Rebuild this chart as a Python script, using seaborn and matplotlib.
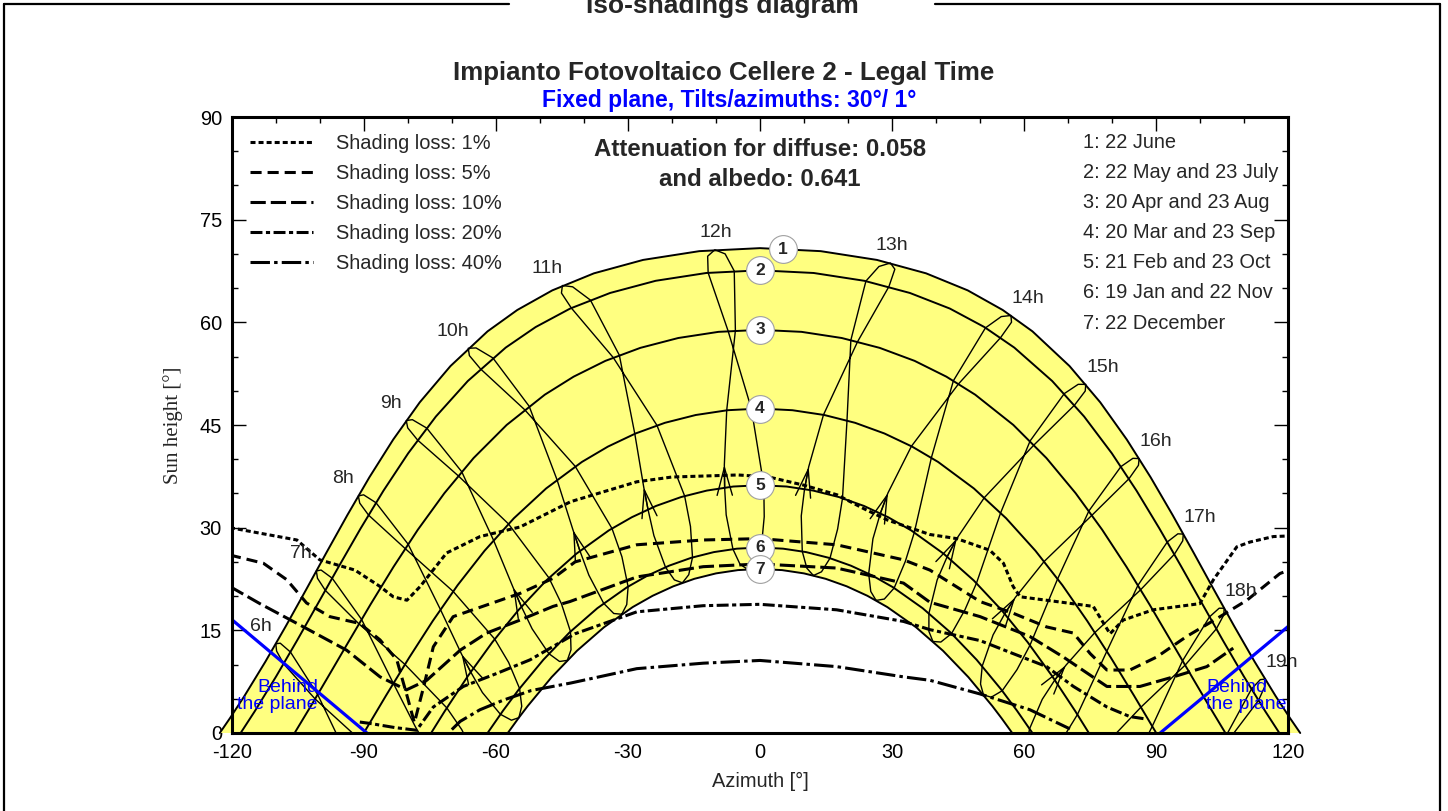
import numpy as np
import matplotlib
matplotlib.use("Agg")
import matplotlib.pyplot as plt
import seaborn as sns
from matplotlib.lines import Line2D

# ---------------- data (azimuth [deg], sun height [deg]) ----------------
# date curves (sun paths) 1..7
D1_AZ = [-122.71, -120.37, -117.10, -112.34, -107.70, -103.10, -98.48, -93.72, -88.72, -83.32, -77.29,
         -70.31, -61.89, -55.14, -47.18, -37.72, -26.55, -13.79, 0, 13.79, 26.55, 37.72, 47.18, 55.14,
         61.89, 70.31, 77.29, 83.32, 88.72, 93.72, 98.48, 103.10, 107.70, 112.34, 117.10, 120.37, 122.71]
D1_H = [0, 2.19, 5.42, 10.43, 15.62, 20.94, 26.36, 31.85, 37.37, 42.87, 48.31,
        53.61, 58.68, 61.80, 64.67, 67.16, 69.12, 70.40, 70.84, 70.40, 69.12, 67.16, 64.67, 61.80,
        58.68, 53.61, 48.31, 42.87, 37.37, 31.85, 26.36, 20.94, 15.62, 10.43, 5.42, 2.19, 0]
D2_AZ = [-117.97, -114.79, -109.92, -105.15, -100.43, -95.65, -90.73, -85.54, -79.91, -73.62, -66.38,
         -57.76, -50.96, -43.13, -34.05, -23.69, -12.19, 0, 12.19, 23.69, 34.05, 43.13, 50.96, 57.76,
         66.38, 73.62, 79.91, 85.54, 90.73, 95.65, 100.43, 105.15, 109.92, 114.79, 117.97]
D2_H = [0, 3.15, 8.25, 13.52, 18.90, 24.36, 29.87, 35.39, 40.87, 46.24, 51.42,
        56.31, 59.31, 62.01, 64.29, 66.07, 67.21, 67.60, 67.21, 66.07, 64.29, 62.01, 59.31, 56.31,
        51.42, 46.24, 40.87, 35.39, 29.87, 24.36, 18.90, 13.52, 8.25, 3.15, 0]
D3_AZ = [-105.71, -101.84, -98.52, -93.54, -88.49, -83.25, -77.71, -71.70, -65.06, -57.54, -48.88,
         -42.34, -35.12, -27.18, -18.57, -9.43, 0, 9.43, 18.57, 27.18, 35.12, 42.34, 48.88, 57.54,
         65.06, 71.70, 77.71, 83.25, 88.49, 93.54, 98.52, 101.84, 105.71]
D3_H = [0, 4.13, 7.76, 13.24, 18.76, 24.27, 29.71, 35.03, 40.17, 45.01, 49.43,
        52.06, 54.37, 56.27, 57.71, 58.61, 58.90, 58.61, 57.71, 56.27, 54.37, 52.06, 49.43, 45.01,
        40.17, 35.03, 29.71, 24.27, 18.76, 13.24, 7.76, 4.13, 0]
D4_AZ = [-90, -84.91, -79.72, -74.34, -68.68, -62.56, -55.91, -48.58, -40.46, -34.56, -28.27, -21.60,
         -14.60, -7.37, 0, 7.37, 14.60, 21.60, 28.27, 34.56, 40.46, 48.58, 55.91, 62.56, 68.68, 74.34,
         79.72, 84.91, 90]
D4_H = [0, 5.51, 10.98, 16.36, 21.60, 26.63, 31.37, 35.73, 39.60, 41.84, 43.76, 45.32,
        46.46, 47.16, 47.40, 47.16, 46.46, 45.32, 43.76, 41.84, 39.60, 35.73, 31.37, 26.63, 21.60, 16.36,
        10.98, 5.51, 0]
D5_AZ = [-74.70, -71.62, -66.34, -60.79, -54.89, -48.56, -41.72, -34.34, -29.10, -23.63, -17.94, -12.07,
         -6.07, 0, 6.07, 12.07, 17.94, 23.63, 29.10, 34.34, 41.72, 48.56, 54.89, 60.79, 66.34, 71.62, 74.70]
D5_H = [0, 3.18, 8.33, 13.27, 17.94, 22.28, 26.19, 29.60, 31.53, 33.17, 34.47, 35.42,
        36.01, 36.20, 36.01, 35.42, 34.47, 33.17, 31.53, 29.60, 26.19, 22.28, 17.94, 13.27, 8.33, 3.18, 0]
D6_AZ = [-61.88, -58.37, -54.81, -49.22, -43.28, -36.95, -30.22, -25.51, -20.63, -15.61, -10.48, -5.26, 0,
         5.26, 10.48, 15.61, 20.63, 25.51, 30.22, 36.95, 43.28, 49.22, 54.81, 58.37, 61.88]
D6_H = [0, 3.26, 6.34, 10.69, 14.68, 18.23, 21.29, 23.01, 24.45, 25.60, 26.43, 26.93, 27.10,
        26.93, 26.43, 25.60, 24.45, 23.01, 21.29, 18.23, 14.68, 10.69, 6.34, 3.26, 0]
D7_AZ = [-57.29, -54.89, -52.79, -47.33, -41.56, -35.42, -28.91, -24.38, -19.70, -14.90, -9.99, -5.01, 0,
         5.01, 9.99, 14.90, 19.70, 24.38, 28.91, 35.42, 41.56, 47.33, 52.79, 54.89, 57.29]
D7_H = [0, 2.14, 3.92, 8.16, 12.02, 15.46, 18.40, 20.05, 21.43, 22.53, 23.32, 23.80, 23.96,
        23.80, 23.32, 22.53, 21.43, 20.05, 18.40, 15.46, 12.02, 8.16, 3.92, 2.14, 0]

# hour lines: position of the sun at each legal hour (6h..19h) on given dates
HOURS = [6, 7, 8, 9, 10, 11, 12, 13, 14, 15, 16, 17, 18, 19]
AZ_DEC22 = [-74.04, -64.71, -54.77, -43.77, -31.41, -17.63, -2.84, 12.13, 26.37, 39.28, 50.77, 61.06, 70.56, 79.77]
H_DEC22 = [-17.61, -7.29, 2.24, 10.61, 17.35, 21.94, 23.91, 23.01, 19.37, 13.37, 5.56, -3.58, -13.64, -24.30]
AZ_JAN05 = [-75.73, -66.38, -56.46, -45.53, -33.22, -19.45, -4.55, 10.64, 25.16, 38.36, 50.09, 60.56, 70.18, 79.47]
H_JAN05 = [-18.25, -7.82, 1.87, 10.45, 17.46, 22.37, 24.67, 24.08, 20.68, 14.86, 7.16, -1.92, -11.95, -22.59]
AZ_JAN19 = [-78.45, -68.95, -58.96, -47.95, -35.51, -21.47, -6.15, 9.60, 24.69, 38.37, 50.47, 61.23, 71.06, 80.53]
H_JAN19 = [-17.77, -7.18, 2.73, 11.59, 18.95, 24.23, 26.87, 26.54, 23.27, 17.49, 9.76, 0.62, -9.47, -20.16]
AZ_FEB08 = [-83.09, -73.29, -63.05, -51.75, -38.87, -24.10, -7.68, 9.37, 25.65, 40.24, 52.94, 64.11, 74.28, 84.07]
H_FEB08 = [-15.13, -4.33, 5.91, 15.21, 23.06, 28.84, 31.87, 31.71, 28.37, 22.36, 14.33, 4.92, -5.39, -16.22]
AZ_FEB21 = [-86.11, -76.13, -65.71, -54.19, -40.90, -25.44, -8.03, 10.12, 27.34, 42.52, 55.59, 66.96, 77.30, 87.27]
H_FEB21 = [-12.41, -1.51, 8.91, 18.46, 26.61, 32.67, 35.86, 35.66, 32.10, 25.77, 17.42, 7.74, -2.76, -13.68]
AZ_MAR01 = [-88.41, -78.33, -67.79, -56.08, -42.46, -26.40, -8.10, 11.06, 29.07, 44.73, 58.00, 69.50, 79.91, 89.99]
H_MAR01 = [-9.99, 0.97, 11.52, 21.25, 29.63, 35.89, 39.17, 38.88, 35.08, 28.44, 19.81, 9.91, -0.72, -11.71]
AZ_MAR20 = [-93.48, -83.28, -72.58, -60.52, -46.11, -28.44, -7.56, 14.42, 34.40, 50.97, 64.54, 76.07, 86.52, 96.72]
H_MAR20 = [-3.77, 7.25, 18.03, 28.16, 37.01, 43.72, 47.15, 46.49, 41.90, 34.40, 25.06, 14.68, 3.77, -7.25]
AZ_APR20 = [-100.47, -90.50, -79.93, -67.76, -52.44, -31.95, -5.59, 22.17, 45.11, 62.24, 75.41, 86.46, 96.56, 106.58]
H_APR20 = [5.61, 16.59, 27.59, 38.18, 47.75, 55.20, 58.80, 57.18, 51.02, 42.09, 31.82, 20.93, 9.91, -0.90]
AZ_MAY22 = [-106.66, -97.18, -87.22, -75.70, -60.68, -38.52, -5.85, 29.28, 54.64, 71.45, 83.80, 94.12, 103.65, 113.22]
H_MAY22 = [11.83, 22.62, 33.64, 44.55, 54.80, 63.25, 67.50, 65.22, 57.76, 47.91, 37.14, 26.11, 15.21, 4.75]
AZ_JUN07 = [-108.97, -99.70, -90.04, -78.96, -64.49, -42.56, -7.92, 30.63, 57.13, 73.87, 85.96, 96.02, 105.35, 114.72]
H_JUN07 = [13.12, 23.81, 34.80, 45.78, 56.26, 65.19, 70.00, 67.76, 60.02, 49.96, 39.11, 28.08, 17.25, 6.88]
AZ_JUN22 = [-109.98, -100.77, -91.23, -80.35, -66.27, -44.88, -10.26, 29.62, 57.00, 74.00, 86.12, 96.15, 105.43, 114.74]
H_JUN22 = [13.04, 23.68, 34.64, 45.65, 56.21, 65.38, 70.60, 68.67, 61.00, 50.94, 40.09, 29.06, 18.23, 7.87]
AZ_JUL07 = [-109.80, -100.52, -90.92, -80.02, -66.01, -45.10, -11.89, 27.02, 54.80, 72.27, 84.70, 94.91, 104.29, 113.64]
H_JUL07 = [11.97, 22.61, 33.59, 44.58, 55.14, 64.28, 69.66, 68.16, 60.84, 50.94, 40.13, 29.10, 18.23, 7.80]
AZ_JUL23 = [-108.21, -98.74, -88.92, -77.76, -63.50, -42.84, -11.78, 24.06, 51.21, 69.12, 81.98, 92.51, 102.11, 111.63]
H_JUL23 = [10.11, 20.84, 31.84, 42.79, 53.21, 62.08, 67.24, 66.03, 59.19, 49.59, 38.92, 27.91, 16.97, 6.42]
AZ_AUG23 = [-101.06, -91.09, -80.59, -68.54, -53.46, -33.33, -7.24, 20.64, 43.93, 61.35, 74.71, 85.85, 95.98, 105.98]
H_AUG23 = [4.98, 15.94, 26.94, 37.58, 47.24, 54.85, 58.73, 57.41, 51.47, 42.67, 32.45, 21.58, 10.55, -0.27]
AZ_SEP23 = [-90.90, -80.65, -69.69, -57.13, -41.97, -23.40, -1.96, 19.76, 38.93, 54.66, 67.60, 78.78, 89.10, 99.35]
H_SEP23 = [-0.98, 10.02, 20.68, 30.55, 38.96, 44.94, 47.38, 45.66, 40.23, 32.17, 22.51, 11.94, 0.98, -10.02]
AZ_OCT23 = [-81.24, -71.14, -60.25, -47.94, -33.62, -17.12, 0.86, 18.74, 35.05, 49.17, 61.32, 72.10, 82.17, 92.22]
H_OCT23 = [-7.05, 3.67, 13.72, 22.66, 29.88, 34.63, 36.20, 34.31, 29.30, 21.89, 12.82, 2.69, -8.06, -19.08]
AZ_NOV05 = [-77.68, -67.77, -57.10, -45.11, -31.36, -15.79, 0.96, 17.63, 33.01, 46.55, 58.37, 68.92, 78.79, 88.61]
H_NOV05 = [-10.01, 0.52, 10.31, 18.90, 25.74, 30.17, 31.60, 29.80, 25.07, 18.00, 9.25, -0.64, -11.23, -22.19]
AZ_NOV22 = [-74.59, -64.96, -54.61, -43.05, -29.96, -15.33, 0.30, 15.90, 30.47, 43.51, 55.01, 65.33, 74.95, 84.44]
H_NOV22 = [-13.38, -3.03, 6.50, 14.82, 21.39, 25.65, 27.10, 25.54, 21.18, 14.53, 6.17, -3.41, -13.78, -24.63]
AZ_DEC07 = [-73.66, -64.23, -54.12, -42.93, -30.27, -16.19, -1.15, 13.97, 28.24, 41.08, 52.52, 62.76, 72.27, 81.56]
H_DEC07 = [-15.87, -5.58, 3.90, 12.16, 18.76, 23.12, 24.79, 23.55, 19.57, 13.29, 5.23, -4.09, -14.28, -25.03]

# iso-shading loss curves
L1_AZ = [-120.4, -105.2, -100, -92, -86.3, -83.3, -80.2, -77.2, -71.2, -63.6, -54.5, -43, -28, -20, -5, 2,
         10, 17.5, 23.5, 29, 38.6, 44.7, 50, 52.2, 55.3, 57.5, 59.1, 75.7, 79.5, 82.5, 89.3, 99.9, 103,
         108.3, 111.3, 116.6, 120.6]
L1_H = [30.0, 28.2, 25.3, 23.8, 21.4, 19.9, 19.4, 21.4, 26.3, 28.7, 30.1, 33.8, 36.7, 37.4, 37.7, 37.4,
        36.2, 34.8, 32.8, 31.1, 29.0, 28.4, 27.2, 26.7, 24.8, 21.4, 19.9, 18.5, 14.5, 16.5, 18.0, 18.9, 22.4,
        27.2, 27.9, 28.7, 28.8]
L5_AZ = [-120.4, -112.8, -107.5, -103, -97.7, -90.9, -86.3, -82.5, -80.2, -78.5, -76.3, -74.2, -69.7,
         -62.1, -54.5, -47, -42, -28, -12.9, 0, 17.4, 32.6, 38.6, 50, 57.5, 65.1, 71.2, 75, 78.8, 84,
         90.1, 96.9, 104.5, 110.6, 118.1, 120.6]
L5_H = [26.0, 24.8, 22.4, 19.0, 17.0, 16.0, 13.6, 10.7, 5.5, 1.5, 7.0, 12.6, 17.0,
        18.7, 20.4, 22.6, 25.0, 27.5, 28.2, 28.4, 27.5, 25.3, 23.8, 19.2, 17.5, 15.5, 14.6, 11.6, 9.2, 9.2,
        11.1, 14.1, 17.0, 19.4, 23.3, 23.9]
L10_AZ = [-120.4, -113.6, -103.7, -93.9, -86.3, -80.3, -75.7, -68.1, -62.1, -54.5, -47, -43.2, -28, -12.9,
          0, 17.4, 32.6, 38.6, 50, 61.3, 68.9, 78.8, 86.3, 93.9, 101.5, 107.5]
L10_H = [21.4, 18.9, 15.5, 12.1, 8.2, 6.3, 7.7, 12.1, 14.6, 16.5, 18.5, 19.2, 22.8, 24.3,
         24.7, 24.1, 21.9, 19.1, 17.0, 14.1, 11.1, 6.8, 6.8, 8.2, 9.7, 12.4]
L20_AZ = [-90.9, -88.6, -83, -78, -74.2, -67.4, -59.8, -52.2, -42, -28, -12.9, 0, 17.4, 32.6, 38.6,
          50, 57.5, 65.1, 71.2, 78.8, 84, 87.1]
L20_H = [1.6, 1.4, 0.8, 0.4, 3.8, 6.8, 8.7, 10.7, 14.5, 17.7, 18.6, 18.8, 18.0, 16.3, 15.1,
         13.5, 11.6, 9.7, 6.8, 3.8, 2.4, 2.1]
L40_AZ = [-70, -68.1, -63.6, -58.3, -52, -43, -28, -12.9, 0, 17.4, 32.6, 38.6, 50, 61.3, 70.4]
L40_H = [0.5, 1.7, 3.4, 4.8, 6.2, 7.3, 9.4, 10.2, 10.6, 9.7, 8.2, 7.7, 5.7, 3.4, 0.6]
LOSS_LABELS = ["Shading loss: 1%", "Shading loss: 5%", "Shading loss: 10%",
               "Shading loss: 20%", "Shading loss: 40%"]

# "behind the plane" limits
BL_AZ = [-120.4, -89.3]
BL_H = [16.8, 0]
BR_AZ = [90.9, 120.4]
BR_H = [0, 15.8]

DATE_LABELS = ["1: 22 June", "2: 22 May and 23 July", "3: 20 Apr and 23 Aug",
               "4: 20 Mar and 23 Sep", "5: 21 Feb and 23 Oct", "6: 19 Jan and 22 Nov",
               "7: 22 December"]
BADGE_AZ = [5.2, 0, 0, 0, 0, 0, 0]

# ---------------- style ----------------
sns.set_style("white")
plt.rcParams['font.family'] = ['Liberation Sans', 'DejaVu Sans']
plt.rcParams['lines.scale_dashes'] = False
plt.rcParams['axes.unicode_minus'] = False

W, H = 1448, 811
fig = plt.figure(figsize=(W / 100, H / 100), dpi=100)
fig.patch.set_facecolor('white')
ax = fig.add_axes([231.7 / W, 1 - 733 / H, (1288.3 - 231.7) / W, 616 / H])
ax.set_facecolor('white')

YELLOW = '#FFFF80'
ax.fill(D1_AZ, D1_H, color=YELLOW, lw=0, clip_on=False, zorder=1)
ax.fill(D7_AZ, D7_H, color='white', lw=0, zorder=1.1)

curves = [(D1_AZ, D1_H), (D2_AZ, D2_H), (D3_AZ, D3_H), (D4_AZ, D4_H),
          (D5_AZ, D5_H), (D6_AZ, D6_H), (D7_AZ, D7_H)]
for k, (cx, cy) in enumerate(curves):
    sns.lineplot(x=cx, y=cy, sort=False, estimator=None, color='black', lw=1.4,
                 ax=ax, zorder=2, clip_on=(k != 0))

SEQ_AZ = [AZ_DEC22, AZ_JAN05, AZ_JAN19, AZ_FEB08, AZ_FEB21, AZ_MAR01, AZ_MAR20, AZ_APR20, AZ_MAY22,
          AZ_JUN07, AZ_JUN22, AZ_JUL07, AZ_JUL23, AZ_AUG23, AZ_SEP23, AZ_OCT23, AZ_NOV05, AZ_NOV22,
          AZ_DEC07, AZ_DEC22]
SEQ_H = [H_DEC22, H_JAN05, H_JAN19, H_FEB08, H_FEB21, H_MAR01, H_MAR20, H_APR20, H_MAY22,
         H_JUN07, H_JUN22, H_JUL07, H_JUL23, H_AUG23, H_SEP23, H_OCT23, H_NOV05, H_NOV22,
         H_DEC07, H_DEC22]
for i, hr in enumerate(HOURS):
    xs = [a[i] for a in SEQ_AZ]
    ys = [b[i] for b in SEQ_H]
    sns.lineplot(x=xs, y=ys, sort=False, estimator=None, color='black', lw=1.0, ax=ax, zorder=2.2)
    if H_MAR01[i] > 5:
        ax.annotate('', xy=(AZ_MAR01[i], H_MAR01[i]), xytext=(AZ_FEB21[i], H_FEB21[i]),
                    arrowprops=dict(arrowstyle='->,head_length=2.0,head_width=0.55', lw=1.0,
                                    color='black', shrinkA=0, shrinkB=0, mutation_scale=10),
                    zorder=2.3)
    if hr <= 11:
        dx = -15
    elif hr <= 13:
        dx = 1
    else:
        dx = 17
    ax.annotate(f"{hr}h", xy=(AZ_JUN22[i], H_JUN22[i]), xytext=(dx * 0.72, 17 * 0.72),
                textcoords='offset points', ha='center', va='center', fontsize=14, zorder=7,
                annotation_clip=False)

# behind-the-plane limits
for bx, by in [(BL_AZ, BL_H), (BR_AZ, BR_H)]:
    sns.lineplot(x=bx, y=by, sort=False, estimator=None, color='#0000FF', lw=2.3, ax=ax, zorder=3)
ax.text((318 - 760) / 4.4025, (733 - 696) / 6.844, "Behind\nthe plane", color='#0000FF',
        ha='right', va='center', multialignment='right', fontsize=14, linespacing=1.05, zorder=7)
ax.text((1206 - 760) / 4.4025, (733 - 696) / 6.844, "Behind\nthe plane", color='#0000FF',
        ha='left', va='center', multialignment='left', fontsize=14, linespacing=1.05, zorder=7)

# iso-shading curves
styles = [(0, (3.6, 2.2)), (0, (8.0, 4.3)), (0, (11.0, 3.6)), (0, (8.6, 2.5, 3.0, 2.5)),
          (0, (14.0, 3.0, 2.5, 3.0))]
handles = []
for (lx, ly), ls in zip([(L1_AZ, L1_H), (L5_AZ, L5_H), (L10_AZ, L10_H), (L20_AZ, L20_H),
                         (L40_AZ, L40_H)], styles):
    sns.lineplot(x=lx, y=ly, sort=False, estimator=None, color='black', lw=2.2,
                 linestyle=ls, ax=ax, zorder=4)
    handles.append(ax.get_lines()[-1])
leg = ax.legend(handles, LOSS_LABELS, loc='upper left', bbox_to_anchor=(0.0173, 0.9724),
                frameon=False, fontsize=14.4, handlelength=3.15, handletextpad=1.15,
                labelspacing=0.55, borderpad=0, borderaxespad=0)
leg.set_zorder(8)

# date badges
badge_h = [float(np.interp(bx, cx, cy)) for bx, (cx, cy) in zip(BADGE_AZ, curves)]
ax.scatter(BADGE_AZ, badge_h, s=400, c='white', edgecolors='#a0a0a0', linewidths=0.8, zorder=6)
for n, (bx, bh) in enumerate(zip(BADGE_AZ, badge_h), start=1):
    ax.text(bx, bh, str(n), ha='center', va='center', fontsize=12.5, weight='bold', zorder=6.5)

# axes
ax.set_xlim(-120, 120)
ax.set_ylim(0, 90)
ax.set_xticks(np.arange(-120, 121, 30))
ax.set_xticks(np.arange(-120, 121, 10), minor=True)
ax.set_yticks(np.arange(0, 91, 15))
ax.set_yticks(np.arange(0, 91, 5), minor=True)
ax.tick_params(which='both', direction='in', top=True, right=True, bottom=True, left=True,
               width=1.0, colors='black')
ax.tick_params(which='major', length=10, labelsize=14.4, pad=7)
ax.tick_params(which='minor', length=4.5)
for s in ax.spines.values():
    s.set_linewidth(2.2)
    s.set_color('black')
    s.set_zorder(9)
ax.set_xlabel('Azimuth [°]', fontsize=14.4, labelpad=7)
ax.set_ylabel('Sun height [°]', fontsize=15, fontfamily=['Liberation Serif', 'DejaVu Serif'], labelpad=12)

# texts
fig.text(722 / W, 1 - 13 / H, 'Iso-shadings diagram', ha='center', va='baseline',
         fontsize=19, weight='bold')
fig.text(0.5, 1 - 73 / H, 'Impianto Fotovoltaico Cellere 2 - Legal Time', ha='center',
         va='center', fontsize=18.6, weight='bold')
fig.text(729 / W, 1 - 100 / H, 'Fixed plane, Tilts/azimuths: 30°/ 1°', ha='center',
         va='center', fontsize=16.5, weight='bold', color='#0000FF')
fig.text(760 / W, 1 - 150 / H, 'Attenuation for diffuse: 0.058', ha='center', va='center',
         fontsize=17.3, weight='bold')
fig.text(760 / W, 1 - 180 / H, 'and albedo: 0.641', ha='center', va='center',
         fontsize=17.3, weight='bold')
for j, lab in enumerate(DATE_LABELS):
    fig.text(1083 / W, 1 - (142 + 30.2 * j) / H, lab, ha='left', va='center', fontsize=14.4)

# outer frame
lw_frame = 1.6
fig.add_artist(Line2D([4 / W, 4 / W], [0, 1 - 4 / H], color='black', lw=lw_frame))
fig.add_artist(Line2D([1440 / W, 1440 / W], [0, 1 - 4 / H], color='black', lw=lw_frame))
fig.add_artist(Line2D([4 / W, 509 / W], [1 - 4 / H, 1 - 4 / H], color='black', lw=lw_frame))
fig.add_artist(Line2D([935 / W, 1440 / W], [1 - 4 / H, 1 - 4 / H], color='black', lw=lw_frame))

fig.savefig('out.png', dpi=100)
